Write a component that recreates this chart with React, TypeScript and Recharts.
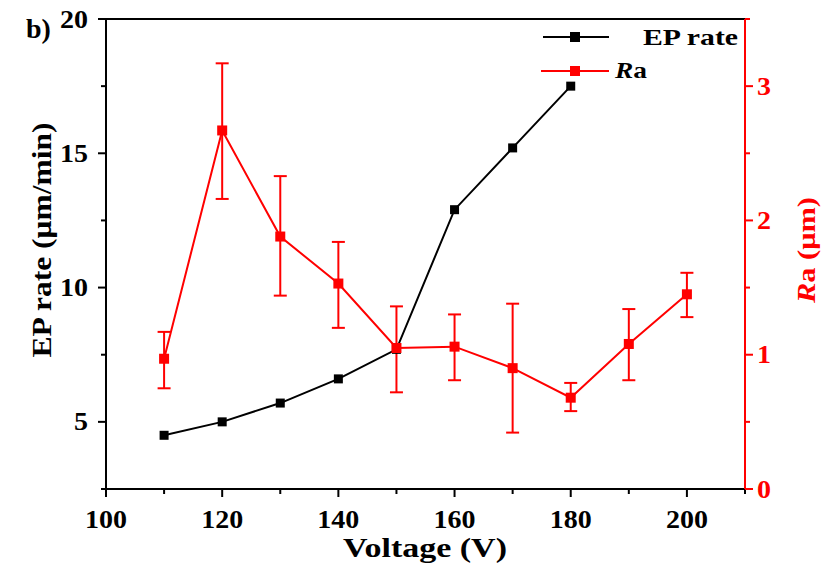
import React from 'react';
import { ComposedChart, Line, XAxis, YAxis, ErrorBar, ReferenceLine, Legend } from 'recharts';

// values
const voltage = [110, 120, 130, 140, 150, 160, 170, 180, 190, 200];
const epRate = [4.5, 5.0, 5.7, 6.6, 7.7, 12.9, 15.2, 17.5]; // 110–180 V only
const ra = [0.97, 2.67, 1.88, 1.53, 1.05, 1.06, 0.9, 0.68, 1.08, 1.45];
const raUpper = [1.17, 3.17, 2.33, 1.84, 1.36, 1.3, 1.38, 0.79, 1.34, 1.61];
const raLower = [0.75, 2.16, 1.44, 1.2, 0.72, 0.81, 0.42, 0.58, 0.81, 1.28];

const xTicks = [100, 110, 120, 130, 140, 150, 160, 170, 180, 190, 200, 210];
const leftTicks = [2.5, 5, 7.5, 10, 12.5, 15, 17.5, 20];
const rightTicks = [0, 0.5, 1, 1.5, 2, 2.5, 3, 3.5];

const data = voltage.map((v, i) => ({
  voltage: v,
  epRate: i < epRate.length ? epRate[i] : undefined,
  ra: ra[i],
  raErr: [ra[i] - raLower[i], raUpper[i] - ra[i]],
}));

const RED = '#ff0000';
const txt = { fontFamily: 'Liberation Serif', fontWeight: 700 } as React.CSSProperties;

const XTick = ({ x, y, payload }: any) => {
  const major = payload.value % 20 === 0;
  return (
    <g>
      <line x1={x} y1={y} x2={x} y2={y + (major ? 8 : 5)} stroke="#000" strokeWidth={2} />
      {major && (
        <text x={x} y={y + 30} textAnchor="middle" dominantBaseline="central"
          style={txt} fontSize={25} fill="#000" textLength={42} lengthAdjust="spacingAndGlyphs">
          {payload.value}
        </text>
      )}
    </g>
  );
};

const LeftTick = ({ x, y, payload }: any) => {
  const major = payload.value % 5 === 0;
  const label = String(payload.value);
  return (
    <g>
      <line x1={x} y1={y} x2={x - (major ? 8 : 5)} y2={y} stroke="#000" strokeWidth={2} />
      {major && (
        <text x={x - 18} y={y} textAnchor="end" dominantBaseline="central"
          style={txt} fontSize={25} fill="#000" textLength={label.length * 14} lengthAdjust="spacingAndGlyphs">
          {label}
        </text>
      )}
    </g>
  );
};

const RightTick = ({ x, y, payload }: any) => {
  const major = Number.isInteger(payload.value) && payload.value <= 3;
  return (
    <g>
      <line x1={x} y1={y} x2={x + (major ? 8 : 5)} y2={y} stroke={RED} strokeWidth={2} />
      {major && (
        <text x={x + 12} y={y} textAnchor="start" dominantBaseline="central"
          style={txt} fontSize={25} fill={RED} textLength={14} lengthAdjust="spacingAndGlyphs">
          {payload.value}
        </text>
      )}
    </g>
  );
};

const square = (color: string, size: number) => (props: any) => {
  const { cx, cy, index } = props;
  if (cx == null || cy == null || props.value == null) return <g key={index} />;
  return <rect key={index} x={cx - size / 2} y={cy - size / 2} width={size} height={size} fill={color} />;
};

const renderLegend = () => (
  <svg width={230} height={70} style={{ display: 'block' }}>
    <line x1={8} y1={17} x2={74} y2={17} stroke="#000" strokeWidth={2} />
    <rect x={35} y={12} width={10} height={10} fill="#000" />
    <text x={108} y={25} style={txt} fontSize={24} fill="#000"
      textLength={95} lengthAdjust="spacingAndGlyphs">EP rate</text>
    <line x1={6} y1={51} x2={74} y2={51} stroke={RED} strokeWidth={2} />
    <rect x={35} y={46} width={10} height={10} fill={RED} />
    <text x={80} y={58} style={txt} fontSize={24} fill="#000"
      textLength={32} lengthAdjust="spacingAndGlyphs">
      <tspan fontStyle="italic">R</tspan>a
    </text>
  </svg>
);

export default function App() {
  return (
    <div style={{ position: 'absolute', left: 0, top: 0, width: 835, height: 566, background: '#fff' }}>
      <ComposedChart width={835} height={566} data={data} margin={{ top: 19, right: 0, bottom: 0, left: 0 }}>
        <XAxis
          dataKey="voltage"
          type="number"
          domain={[100, 210]}
          ticks={xTicks}
          interval={0}
          height={77}
          tickSize={0}
          tickMargin={0}
          tickLine={false}
          tick={<XTick />}
          axisLine={{ stroke: '#000', strokeWidth: 2 }}
          label={{
            content: () => (
              <text x={425} y={557} textAnchor="middle" style={txt}
                fontSize={28} fill="#000" textLength={164} lengthAdjust="spacingAndGlyphs">
                Voltage (V)
              </text>
            ),
          }}
        />
        <YAxis
          yAxisId="left"
          orientation="left"
          type="number"
          domain={[2.5, 20]}
          ticks={leftTicks}
          interval={0}
          width={106}
          tickSize={0}
          tickMargin={0}
          tickLine={false}
          tick={<LeftTick />}
          axisLine={{ stroke: '#000', strokeWidth: 2 }}
          label={{
            content: () => (
              <text x={51} y={240} transform="rotate(-90 51 240)" textAnchor="middle"
                style={txt} fontSize={27} fill="#000"
                textLength={235} lengthAdjust="spacingAndGlyphs">
                EP rate (μm/min)
              </text>
            ),
          }}
        />
        <YAxis
          yAxisId="right"
          orientation="right"
          type="number"
          domain={[0, 3.5]}
          ticks={rightTicks}
          interval={0}
          width={90}
          tickSize={0}
          tickMargin={0}
          tickLine={false}
          tick={<RightTick />}
          axisLine={{ stroke: RED, strokeWidth: 2 }}
          label={{
            content: () => (
              <text x={815} y={250} transform="rotate(-90 815 250)" textAnchor="middle"
                style={txt} fontSize={26} fill={RED}
                textLength={106} lengthAdjust="spacingAndGlyphs">
                <tspan fontStyle="italic">R</tspan>a (μm)
              </text>
            ),
          }}
        />
        <ReferenceLine yAxisId="left" y={20} stroke="#000" strokeWidth={2} />
        <Legend
          layout="horizontal"
          verticalAlign="middle"
          align="center"
          wrapperStyle={{ left: 535, top: 20, width: 230, height: 70 }}
          content={renderLegend}
        />
        <Line
          yAxisId="left"
          dataKey="epRate"
          type="linear"
          stroke="#000"
          strokeWidth={2}
          dot={square('#000', 9)}
          activeDot={false}
          isAnimationActive={false}
        />
        <Line
          yAxisId="right"
          dataKey="ra"
          type="linear"
          stroke={RED}
          strokeWidth={2}
          dot={square(RED, 10)}
          activeDot={false}
          isAnimationActive={false}
        >
          <ErrorBar dataKey="raErr" direction="y" width={6.5} stroke={RED} strokeWidth={2} />
        </Line>
        <text x={26} y={38} style={txt} fontSize={28} fill="#000">b)</text>
      </ComposedChart>
    </div>
  );
}
